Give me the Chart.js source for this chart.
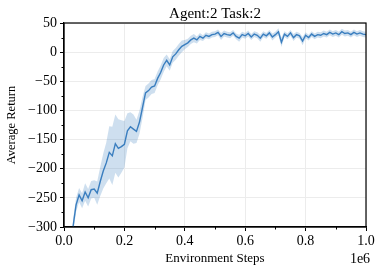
<!DOCTYPE html>
<html>
<head>
<meta charset="utf-8">
<script src="https://cdn.jsdelivr.net/npm/chart.js@4.4.0/dist/chart.umd.min.js"></script>
<style>
  html, body { margin: 0; padding: 0; background: #fff; }
  #wrap { width: 382px; height: 273px; }
</style>
</head>
<body>
<div id="wrap"><canvas id="chart"></canvas></div>
<script>
// environment steps in millions
const steps = [
  0.03, 0.04, 0.05, 0.06, 0.07, 0.08, 0.09, 0.10, 0.11, 0.12,
  0.13, 0.14, 0.15, 0.16, 0.17, 0.18, 0.19, 0.20, 0.21, 0.22,
  0.23, 0.24, 0.25, 0.26, 0.27, 0.28, 0.29, 0.30, 0.31, 0.32,
  0.33, 0.34, 0.35, 0.36, 0.37, 0.38, 0.39, 0.40, 0.41, 0.42,
  0.43, 0.44, 0.45, 0.46, 0.47, 0.48, 0.49, 0.50, 0.51, 0.52,
  0.53, 0.54, 0.55, 0.56, 0.57, 0.58, 0.59, 0.60, 0.61, 0.62,
  0.63, 0.64, 0.65, 0.66, 0.67, 0.68, 0.69, 0.70, 0.71, 0.72,
  0.73, 0.74, 0.75, 0.76, 0.77, 0.78, 0.79, 0.80, 0.81, 0.82,
  0.83, 0.84, 0.85, 0.86, 0.87, 0.88, 0.89, 0.90, 0.91, 0.92,
  0.93, 0.94, 0.95, 0.96, 0.97, 0.98, 0.99, 1.00
];
const meanReturn = [
  -299, -262, -245, -255, -240, -250, -236, -235, -242, -222,
  -204, -190, -172, -178, -157, -165, -162, -158, -135, -128,
  -132, -136, -120, -95, -70, -66, -60, -58, -45, -35,
  -22, -14, -22, -8, -3, 4, 10, 13, 16, 21,
  24, 21, 27, 24, 29, 27, 30, 31, 34, 27,
  32, 30, 29, 33, 27, 24, 30, 28, 32, 26,
  31, 29, 24, 31, 28, 33, 26, 30, 35, 17,
  31, 27, 33, 25, 30, 28, 19, 29, 25, 31,
  27, 30, 29, 32, 30, 34, 31, 33, 30, 35,
  32, 33, 30, 34, 31, 33, 31, 30
];
const spread = [
  12, 12, 12, 13, 15, 15, 15, 15, 20, 25,
  30, 35, 45, 50, 50, 50, 45, 40, 30, 25,
  25, 20, 20, 18, 12, 12, 12, 12, 12, 12,
  12, 10, 10, 10, 10, 10, 10, 8, 7, 7,
  7, 6, 6, 5, 5, 5, 5, 5, 5, 6,
  5, 5, 5, 5, 5, 6, 5, 5, 5, 5,
  5, 5, 6, 5, 5, 5, 6, 5, 6, 8,
  5, 5, 5, 6, 5, 5, 7, 5, 5, 5,
  5, 5, 5, 5, 5, 5, 5, 5, 5, 5,
  5, 5, 5, 5, 5, 5, 5, 5
];
const yTicks = [50, 0, -50, -100, -150, -200, -250, -300];
const xTicks = [0.0, 0.2, 0.4, 0.6, 0.8, 1.0];

const serif = '"Liberation Serif", "DejaVu Serif", serif';
const lineColor = '#3a7ebf';

const meanPts = steps.map((s, i) => ({ x: s * 1e6, y: meanReturn[i] }));
const upperPts = steps.map((s, i) => ({ x: s * 1e6, y: meanReturn[i] + spread[i] }));
const lowerPts = steps.map((s, i) => ({ x: s * 1e6, y: meanReturn[i] - spread[i] }));

// frame, minor ticks, title and offset text
const extras = {
  id: 'extras',
  afterDraw(chart) {
    const ctx = chart.ctx;
    const a = chart.chartArea;
    const xs = chart.scales.x, ys = chart.scales.y;
    ctx.save();
    ctx.strokeStyle = '#000';
    ctx.lineWidth = 1.2;
    ctx.strokeRect(a.left, a.top, a.right - a.left, a.bottom - a.top);
    ctx.lineWidth = 1;
    ctx.beginPath();
    for (let v = -275; v < 50; v += 50) {
      const p = Math.round(ys.getPixelForValue(v)) + 0.5;
      ctx.moveTo(a.left, p); ctx.lineTo(a.left - 2.5, p);
    }
    for (let v = 0.1; v < 1; v += 0.2) {
      const p = Math.round(xs.getPixelForValue(v * 1e6)) + 0.5;
      ctx.moveTo(p, a.bottom); ctx.lineTo(p, a.bottom + 2.5);
    }
    ctx.stroke();
    ctx.fillStyle = '#000';
    ctx.textAlign = 'center';
    ctx.textBaseline = 'alphabetic';
    ctx.font = '15px ' + serif;
    ctx.fillText('Agent:2 Task:2', (a.left + a.right) / 2, 18);
    ctx.font = '14px ' + serif;
    ctx.fillText('1e6', 360, 263);
    ctx.restore();
  }
};

new Chart(document.getElementById('chart'), {
  type: 'line',
  data: {
    datasets: [
      { data: meanPts, borderColor: lineColor, borderWidth: 1.4, pointRadius: 0, tension: 0, fill: false },
      { data: upperPts, borderWidth: 0, pointRadius: 0, tension: 0, fill: '+1', backgroundColor: 'rgba(58,126,191,0.25)' },
      { data: lowerPts, borderWidth: 0, pointRadius: 0, tension: 0, fill: false }
    ]
  },
  options: {
    responsive: true,
    maintainAspectRatio: false,
    animation: false,
    layout: { padding: { top: 23, right: 16, left: 0, bottom: 0 } },
    plugins: { legend: { display: false }, tooltip: { enabled: false } },
    scales: {
      x: {
        type: 'linear', min: 0, max: 1e6,
        afterBuildTicks: s => { s.ticks = xTicks.map(v => ({ value: v * 1e6 })); },
        afterFit: s => { s.height = 46; },
        ticks: { color: '#000', font: { family: serif, size: 14 }, padding: 2, maxRotation: 0,
          callback: v => (v / 1e6).toFixed(1) },
        grid: { color: '#ececec', lineWidth: 1, tickColor: '#000', tickLength: 4 },
        border: { color: '#000', width: 1.2 },
        title: { display: true, text: 'Environment Steps', color: '#000',
          font: { family: serif, size: 13 }, padding: { top: 0, bottom: 7 } }
      },
      y: {
        min: -300, max: 50,
        afterBuildTicks: s => { s.ticks = yTicks.map(v => ({ value: v })); },
        afterFit: s => { s.width = 64; },
        ticks: { color: '#000', font: { family: serif, size: 14 }, padding: 3,
          callback: v => String(v).replace('-', '\u2212') },
        grid: { color: '#ececec', lineWidth: 1, tickColor: '#000', tickLength: 4 },
        border: { color: '#000', width: 1.2 },
        title: { display: true, text: 'Average Return', color: '#000',
          font: { family: serif, size: 12.5 }, padding: { top: 4, bottom: 6 } }
      }
    }
  },
  plugins: [extras]
});
</script>
</body>
</html>
